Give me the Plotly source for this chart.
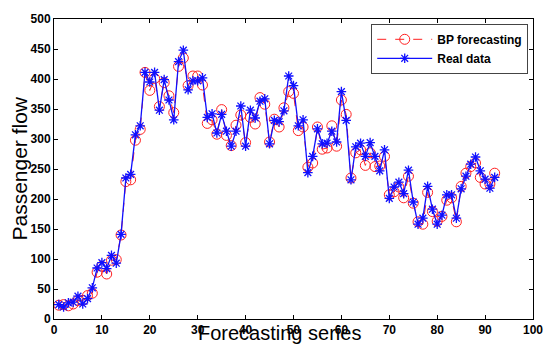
import plotly.graph_objects as go

series_index = list(range(1, 93))

real_data = [24, 20, 27, 28, 38, 25, 34, 52, 85, 94, 84, 106, 93, 141, 235, 241, 307, 322, 411, 395,
             411, 348, 399, 365, 332, 429, 448, 382, 397, 397, 402, 336, 342, 310, 341, 313, 288, 313, 355, 288,
             348, 335, 363, 367, 292, 331, 329, 347, 405, 389, 322, 332, 244, 271, 317, 292, 293, 313, 295, 379,
             331, 232, 287, 293, 271, 294, 271, 247, 282, 201, 220, 228, 209, 248, 195, 158, 168, 221, 183, 158,
             173, 207, 207, 168, 217, 238, 258, 270, 247, 233, 218, 236]

bp_forecast = [23, 24, 22, 25, 31, 31, 39, 43, 78, 88, 75, 98, 99, 140, 229, 232, 298, 316, 411, 381,
               401, 354, 394, 372, 344, 421, 435, 389, 405, 405, 390, 326, 332, 308, 349, 306, 289, 323, 340, 294,
               336, 325, 369, 358, 295, 333, 320, 352, 379, 376, 314, 320, 253, 260, 320, 283, 285, 322, 288, 365,
               341, 235, 277, 282, 256, 277, 254, 255, 271, 207, 212, 220, 202, 238, 193, 162, 158, 211, 179, 163,
               171, 198, 202, 162, 221, 243, 254, 260, 236, 225, 225, 243]

x_ticks = [0, 10, 20, 30, 40, 50, 60, 70, 80, 90, 100]
y_ticks = [0, 50, 100, 150, 200, 250, 300, 350, 400, 450, 500]

fig = go.Figure()
fig.add_trace(go.Scatter(
    x=series_index, y=bp_forecast, name="BP forecasting", mode="lines+markers",
    line=dict(color="#ff2020", width=1, dash="dash"),
    marker=dict(symbol="circle-open", size=10, color="#ff2020", line=dict(width=1, color="#ff2020")),
))
fig.add_trace(go.Scatter(
    x=series_index, y=real_data, name="Real data", mode="lines+markers",
    line=dict(color="#1010ff", width=1.3),
    marker=dict(symbol="asterisk-open", size=8, color="#1010ff", line=dict(width=1.3, color="#1010ff")),
))

axis_font = dict(family="Liberation Sans, Arial", size=12, color="black", weight="bold")
fig.update_xaxes(
    range=[0, 100], tickvals=x_ticks, ticktext=[str(v) for v in x_ticks],
    showline=True, linecolor="black", linewidth=1, mirror="ticks",
    ticks="inside", ticklen=4, tickcolor="black", showgrid=False, zeroline=False,
    tickfont=axis_font,
)
fig.update_yaxes(
    range=[0, 500], tickvals=y_ticks, ticktext=[str(v) for v in y_ticks],
    showline=True, linecolor="black", linewidth=1, mirror="ticks",
    ticks="inside", ticklen=4, tickcolor="black", showgrid=False, zeroline=False,
    tickfont=axis_font,
)

fig.update_layout(
    width=553, height=347,
    margin=dict(l=54, r=10, t=19, b=19),
    plot_bgcolor="white", paper_bgcolor="white",
    font=dict(family="Liberation Sans, Arial", color="black"),
    showlegend=True,
    legend=dict(
        x=0.99, y=0.984, xanchor="right", yanchor="top",
        bgcolor="white", bordercolor="#444444", borderwidth=1,
        font=dict(family="Liberation Sans, Arial", size=12, color="black", weight="bold"),
        tracegroupgap=0, itemwidth=55,
    ),
    annotations=[
        dict(text="Passenger flow", xref="paper", yref="paper", x=-0.074, y=0.5,
             xanchor="center", yanchor="middle", textangle=-90, showarrow=False,
             font=dict(family="Liberation Sans, Arial", size=21, color="black")),
        dict(text="Forecasting series", xref="paper", yref="paper", x=0.47, y=-0.048,
             xanchor="center", yanchor="middle", showarrow=False,
             font=dict(family="Liberation Sans, Arial", size=20, color="black")),
    ],
)

fig.write_html("out.html")
